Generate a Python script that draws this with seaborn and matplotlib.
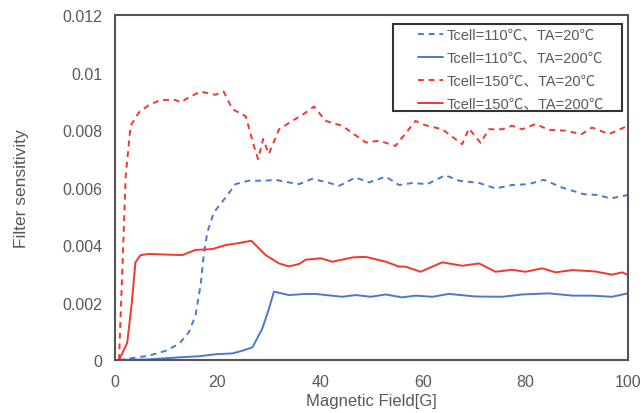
import numpy as np
import pandas as pd
import seaborn as sns
import matplotlib.pyplot as plt
from matplotlib.patches import Rectangle

# Tcell=110, TA=20 (blue dashed)
x_b20 = [0.8, 6.6, 9.9, 12.5, 14.4, 15.7, 16.7, 17.3, 18, 19.3, 21.6, 23.5, 26.1, 29.4,
         31.3, 33.9, 35.9, 38.4, 41.1, 43.7, 46.9, 49.5, 52.8, 55.4, 58, 60.9, 64.4,
         67.1, 71, 74.2, 77.4, 80.7, 83.6, 87.2, 91.4, 94.3, 96.6, 100]
y_b20 = [0, 0.00015, 0.00032, 0.00056, 0.00096, 0.00154, 0.0026, 0.00363, 0.00444,
         0.00514, 0.00566, 0.00612, 0.00624, 0.00624, 0.00627, 0.00618, 0.00612, 0.0063,
         0.0062, 0.00606, 0.00635, 0.00618, 0.00638, 0.00609, 0.00616, 0.00612, 0.00643,
         0.00624, 0.00616, 0.00597, 0.00609, 0.00612, 0.00627, 0.006, 0.00577, 0.00574,
         0.00562, 0.00574]

# Tcell=110, TA=200 (blue solid)
x_b200 = [0.8, 6.6, 13.1, 16.4, 19.6, 22.9, 24.8, 26.8, 28.7, 30, 31, 33.9, 37.2, 39.1,
          44.3, 46.9, 49.9, 52.8, 56, 58.6, 61.9, 65.1, 70.3, 75.5, 79.4, 84.6, 89.2,
          93, 96.9, 100]
y_b200 = [0, 0.00002, 0.0001, 0.00013, 0.0002, 0.00023, 0.00032, 0.00044, 0.00108,
          0.00177, 0.00238, 0.00226, 0.0023, 0.0023, 0.0022, 0.00226, 0.0022, 0.00228,
          0.00218, 0.00224, 0.0022, 0.0023, 0.00221, 0.0022, 0.00228, 0.00232, 0.00224,
          0.00224, 0.0022, 0.00232]

# Tcell=150, TA=20 (red dashed)
x_r20 = [0.8, 2.1, 3.05, 4.7, 6.6, 8.9, 11.8, 12.8, 14.4, 16.7, 19.6, 21.2, 22.9, 25.5,
         27.1, 27.9, 28.9, 30, 32, 34.6, 37.2, 38.8, 41.1, 44.3, 48.9, 51.5, 54.7, 58.6,
         60.5, 63.8, 67.7, 69, 71.3, 72.9, 75.5, 77.4, 79.4, 82, 84.6, 87.8, 91, 93,
         96.3, 100]
y_r20 = [0, 0.0064, 0.00815, 0.00862, 0.00887, 0.00905, 0.00905, 0.00896, 0.00914,
         0.00934, 0.00923, 0.00934, 0.00873, 0.00848, 0.00745, 0.00699, 0.00769, 0.00717,
         0.00803, 0.00832, 0.00861, 0.00882, 0.00832, 0.00815, 0.00757, 0.00763, 0.00745,
         0.00832, 0.00817, 0.00803, 0.00751, 0.00806, 0.00755, 0.00803, 0.00803, 0.00815,
         0.00803, 0.00821, 0.00801, 0.00798, 0.00786, 0.00809, 0.00786, 0.00815]

# Tcell=150, TA=200 (red solid)
x_r200 = [0.8, 2.4, 3.3, 4, 5, 6.6, 9.9, 13.1, 15.7, 19, 21.6, 24.2, 26.6, 29.4, 32,
          33.9, 35.9, 37.2, 40.1, 42.4, 46.3, 48.9, 52.8, 55.4, 56.6, 59.6, 63.8, 67.7,
          71, 74.2, 77.4, 80, 83.3, 85.9, 89.2, 93.7, 96.9, 98.9, 100]
y_r200 = [0, 0.0006, 0.002, 0.0034, 0.00365, 0.00369, 0.00367, 0.00365, 0.00383,
          0.00386, 0.004, 0.00407, 0.00415, 0.00365, 0.00336, 0.00326, 0.00334, 0.00349,
          0.00354, 0.00342, 0.00357, 0.00359, 0.00342, 0.00325, 0.00325, 0.00307, 0.0034,
          0.00328, 0.00336, 0.00307, 0.00314, 0.00307, 0.00319, 0.00305, 0.00313, 0.00308,
          0.00297, 0.00305, 0.00296]

labels = ['Tcell=110℃、TA=20℃', 'Tcell=110℃、TA=200℃',
          'Tcell=150℃、TA=20℃', 'Tcell=150℃、TA=200℃']

blue = '#4a78d2'
red = '#f0382e'
grey = '#595959'

sns.set_style("white")
plt.rcParams['font.family'] = ['Liberation Sans', 'Noto Sans CJK SC', 'DejaVu Sans']

fig = plt.figure(figsize=(6.42, 4.14), dpi=100)
ax = fig.add_axes([0.179, 0.128, 0.799, 0.833])

series = [(x_b20, y_b20, blue, (0, (3, 2.5))),
          (x_b200, y_b200, blue, '-'),
          (x_r20, y_r20, red, (0, (3, 2.5))),
          (x_r200, y_r200, red, '-')]
for (xs, ys, c, ls), lab in zip(series, labels):
    sns.lineplot(x=xs, y=ys, ax=ax, color=c, linestyle=ls, linewidth=1.4, label=lab)

ax.set_xlim(0, 100)
ax.set_ylim(0, 0.012)
ax.set_xticks([0, 20, 40, 60, 80, 100])
ax.set_yticks([0, 0.002, 0.004, 0.006, 0.008, 0.01, 0.012])
ax.set_yticklabels(['0', '0.002', '0.004', '0.006', '0.008', '0.01', '0.012'])
ax.tick_params(axis='both', direction='in', length=4, width=1, color='#333333',
               labelsize=11.5, labelcolor=grey, pad=9)
ax.tick_params(axis='x', pad=10)
for s in ax.spines.values():
    s.set_color('#555555')
    s.set_linewidth(1.5)

ax.set_xlabel('Magnetic Field[G]', fontsize=12, color=grey, labelpad=3)
ax.set_ylabel('Filter sensitivity', fontsize=12.5, color=grey, labelpad=24)

# legend: entries placed inside a separately drawn square frame
leg = ax.legend(loc='upper left', bbox_to_anchor=(0.591, 0.963), fontsize=10.5,
                frameon=False, handlelength=1.7, handletextpad=0.25,
                labelspacing=0.62, borderpad=0, borderaxespad=0)
for t in leg.get_texts():
    t.set_color(grey)
ax.add_patch(Rectangle((0.542, 0.722), 0.446, 0.252, transform=ax.transAxes,
                       fill=False, edgecolor='#333333', linewidth=1.5, zorder=5))

fig.savefig('out.png', dpi=100)
